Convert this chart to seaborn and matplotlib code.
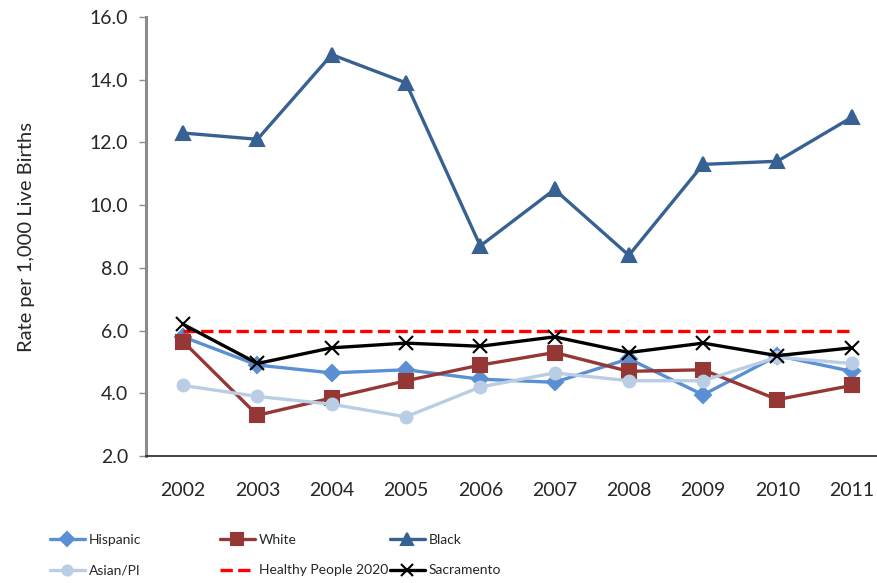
import numpy as np
import pandas as pd
import matplotlib
matplotlib.use("Agg")
import matplotlib.pyplot as plt
import seaborn as sns

years = ['2002', '2003', '2004', '2005', '2006', '2007', '2008', '2009', '2010', '2011']
hispanic = [5.8, 4.9, 4.65, 4.75, 4.45, 4.35, 5.1, 3.95, 5.2, 4.7]
white = [5.65, 3.3, 3.85, 4.4, 4.9, 5.3, 4.7, 4.75, 3.8, 4.25]
black = [12.3, 12.1, 14.8, 13.9, 8.7, 10.5, 8.4, 11.3, 11.4, 12.8]
asian = [4.25, 3.9, 3.65, 3.25, 4.2, 4.65, 4.4, 4.4, 5.15, 4.95]
healthy2020 = [6.0] * 10
sacramento = [6.2, 4.95, 5.45, 5.6, 5.5, 5.8, 5.3, 5.6, 5.2, 5.45]

sns.set_style("white")
plt.rcParams['font.family'] = ['Lato', 'DejaVu Sans']

fig = plt.figure(figsize=(8.77, 5.83), dpi=100)
ax = fig.add_axes([146 / 877, 1 - 456 / 583, 1 - 146 / 877, (456 - 17) / 583])

x = np.arange(len(years))
series = [
    ('Hispanic', hispanic, '#5A8FD4', 'D', 8, '-'),
    ('White', white, '#953735', 's', 9.5, '-'),
    ('Black', black, '#386193', '^', 10.5, '-'),
    ('Asian/PI', asian, '#B9CDE5', 'o', 8.5, '-'),
    ('Healthy People 2020', healthy2020, '#FF0000', None, 0, '--'),
    ('Sacramento', sacramento, '#000000', 'x', 10, '-'),
]
handles = {}
for name, vals, col, mk, ms, ls in series:
    df = pd.DataFrame({'x': x, 'y': vals})
    sns.lineplot(data=df, x='x', y='y', ax=ax, color=col, linewidth=2.4,
                 linestyle=ls, marker=mk, markersize=ms, markeredgecolor=col,
                 markeredgewidth=1.5, dashes=False if ls == '-' else (2, 1.2))
    handles[name] = ax.lines[-1]

ax.set_xlim(-0.5, (877 - 183) / 74.3)
ax.set_ylim(2, 16)
ax.set_yticks(np.arange(2, 16.1, 2))
ax.set_yticklabels([f'{v:.1f}' for v in np.arange(2, 16.1, 2)], fontsize=14)
ax.set_xticks(x)
ax.set_xticklabels(years, fontsize=14)
ax.set_xlabel('')
ax.set_ylabel('Rate per 1,000 Live Births', fontsize=14.5)
ax.yaxis.set_label_coords((35 - 146) / 731, 0.5)

for s in ['top', 'right']:
    ax.spines[s].set_visible(False)
ax.spines['left'].set_color('#8c8c8c')
ax.spines['left'].set_linewidth(2.2)
ax.spines['bottom'].set_color('#222222')
ax.spines['bottom'].set_linewidth(1.2)
ax.tick_params(axis='y', left=True, length=5, width=1, color='#8c8c8c', pad=8)
ax.tick_params(axis='x', bottom=False, pad=15)

groups = [(['Hispanic', 'Asian/PI'], 50), (['White', 'Healthy People 2020'], 220),
          (['Black', 'Sacramento'], 390)]
for names, xpos in groups:
    fig.legend([handles[n] for n in names], names, loc='center left',
               bbox_to_anchor=(xpos / 877, 1 - 555 / 583), frameon=False,
               fontsize=10, handlelength=2.5, handletextpad=0.3, markerscale=0.85,
               labelspacing=1.35, borderpad=0, borderaxespad=0)

fig.savefig('out.png', dpi=100)
